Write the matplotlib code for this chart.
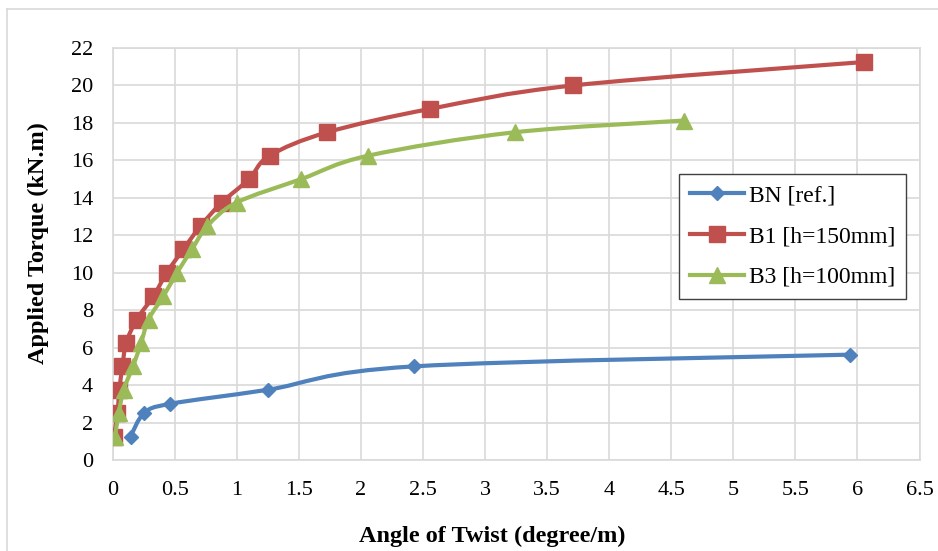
import matplotlib

matplotlib.use("Agg")
import matplotlib.pyplot as plt
import numpy as np
from matplotlib.lines import Line2D
from matplotlib.patches import PathPatch
from matplotlib.path import Path

# values
bn_twist = [0.145, 0.255, 0.465, 1.25, 2.43, 5.94]
bn_torque = [1.25, 2.5, 3.0, 3.75, 5.0, 5.625]

b1_twist = [0.01, 0.04, 0.055, 0.08, 0.11, 0.195, 0.33, 0.437, 0.57, 0.71,
            0.88, 1.1, 1.265, 1.73, 2.56, 3.71, 6.05]
b1_torque = [1.25, 2.5, 3.75, 5.0, 6.25, 7.5, 8.75, 10.0, 11.25, 12.5,
             13.75, 15.0, 16.25, 17.5, 18.75, 20.0, 21.25]

b3_twist = [0.02, 0.05, 0.09, 0.165, 0.23, 0.29, 0.41, 0.52, 0.64, 0.765,
            1.0, 1.52, 2.06, 3.24, 4.6]
b3_torque = [1.25, 2.5, 3.75, 5.0, 6.25, 7.5, 8.75, 10.0, 11.25, 12.5,
             13.75, 15.0, 16.25, 17.5, 18.125]

series_names = ["BN [ref.]", "B1 [h=150mm]", "B3 [h=100mm]"]
x_ticks = [0, 0.5, 1, 1.5, 2, 2.5, 3, 3.5, 4, 4.5, 5, 5.5, 6, 6.5]
x_tick_labels = ["0", "0.5", "1", "1.5", "2", "2.5", "3", "3.5", "4", "4.5",
                 "5", "5.5", "6", "6.5"]
y_ticks = [0, 2, 4, 6, 8, 10, 12, 14, 16, 18, 20, 22]

W, H = 938, 551
plt.rcParams["font.family"] = ["Liberation Serif", "DejaVu Serif"]


def smooth_path(x, y):
    """Excel-style smoothed line: cubic Bezier through the points."""
    p = np.column_stack([x, y]).astype(float)
    n = len(p)
    verts, codes = [p[0]], [Path.MOVETO]
    for i in range(n - 1):
        p0, p1, p2, p3 = p[max(i - 1, 0)], p[i], p[i + 1], p[min(i + 2, n - 1)]
        verts += [p1 + (p2 - p0) / 6, p2 - (p3 - p1) / 6, p2]
        codes += [Path.CURVE4] * 3
    return Path(verts, codes)


fig = plt.figure(figsize=(W / 100, H / 100), dpi=100)
ax = fig.add_axes([112.5 / W, 1 - 460 / H, (919.5 - 112.5) / W, (460 - 48) / H])

styles = [
    ("#4F81BD", "D", 7.5),
    ("#C0504D", "s", 11),
    ("#9BBB59", "^", 11),
]
data = [(bn_twist, bn_torque), (b1_twist, b1_torque), (b3_twist, b3_torque)]
handles = []
for k, ((xs, ys), (col, mk, ms), name) in enumerate(zip(data, styles, series_names)):
    ax.add_patch(PathPatch(smooth_path(xs, ys), facecolor="none", edgecolor=col,
                           lw=3, capstyle="round", joinstyle="round", zorder=3 + k))
    ax.plot(xs, ys, ls="none", marker=mk, ms=ms, color=col, mec=col, zorder=3 + k)
    handles.append(Line2D([], [], color=col, lw=3, marker=mk, ms=ms, label=name))

ax.set_xlim(0, 6.5)
ax.set_ylim(0, 22)
ax.set_xticks(x_ticks, x_tick_labels)
ax.set_yticks(y_ticks)
ax.tick_params(length=0, labelsize=16, colors="black")
ax.tick_params(axis="x", pad=15)
ax.tick_params(axis="y", pad=14)
ax.grid(color="#D9D9D9", lw=1.2)
ax.set_axisbelow(True)
for sp in ax.spines.values():
    sp.set_color("#D9D9D9")
    sp.set_linewidth(1.2)

fig.text(492 / W, 1 - 536 / H, "Angle of Twist (degree/m)", ha="center", va="center",
         fontsize=17.5, fontweight="bold")
fig.text(38 / W, 1 - 243 / H, "Applied Torque (kN.m)", ha="center", va="center",
         rotation=90, fontsize=17.5, fontweight="bold")

leg = ax.legend(handles=handles, loc="upper left", bbox_to_anchor=(679 / W, 1 - 174 / H),
                bbox_transform=fig.transFigure, borderaxespad=0, fancybox=False,
                fontsize=17, handlelength=2.3, handletextpad=0.2, labelspacing=0.82,
                borderpad=0.45, framealpha=1)
leg.get_frame().set_edgecolor("#404040")
leg.get_frame().set_linewidth(1)

# chart area border (light gray), cut at the right and bottom like the reference
fig.add_artist(Line2D([7 / W, 7 / W], [0, 1 - 9 / H], color="#D9D9D9", lw=1.2))
fig.add_artist(Line2D([7 / W, 1], [1 - 9 / H, 1 - 9 / H], color="#D9D9D9", lw=1.2))

fig.savefig("out.png", dpi=100)
